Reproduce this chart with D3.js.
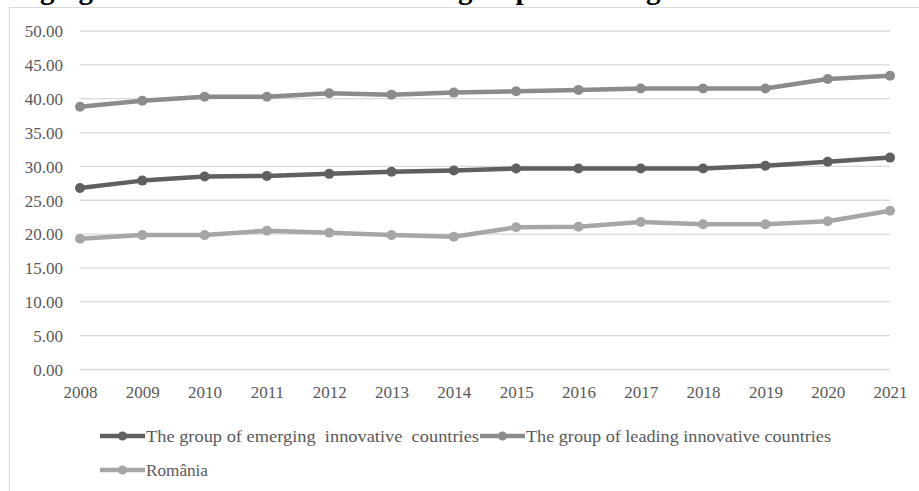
<!DOCTYPE html>
<html>
<head>
<meta charset="utf-8">
<script src="https://cdn.jsdelivr.net/npm/d3@7"></script>
<style>
  html, body { margin: 0; padding: 0; background: #fff; }
  svg { display: block; }
  text { font-family: "Liberation Serif", "Times New Roman", serif; }
</style>
</head>
<body>
<svg id="chart" width="919" height="491"></svg>
<script>
// Innovation scores, 2008–2021
const years = ["2008","2009","2010","2011","2012","2013","2014","2015","2016","2017","2018","2019","2020","2021"];
const emerging = [26.8, 27.9, 28.5, 28.6, 28.9, 29.2, 29.4, 29.7, 29.7, 29.7, 29.7, 30.1, 30.7, 31.3];
const leading  = [38.8, 39.7, 40.3, 40.3, 40.8, 40.6, 40.9, 41.1, 41.3, 41.5, 41.5, 41.5, 42.9, 43.4];
const romania  = [19.3, 19.85, 19.85, 20.5, 20.2, 19.85, 19.6, 21.0, 21.1, 21.8, 21.45, 21.45, 21.9, 23.45];
const yTicks = [0, 5, 10, 15, 20, 25, 30, 35, 40, 45, 50];
const seriesNames = [
  "The group of emerging  innovative  countries",
  "The group of leading innovative countries",
  "România"
];
const titleText = "emerging innovative countries and the group of leading innovative countries";

const series = [
  { name: seriesNames[0], values: emerging, color: "#606060" },
  { name: seriesNames[1], values: leading,  color: "#8b8b8b" },
  { name: seriesNames[2], values: romania,  color: "#a6a6a6" }
];

const svg = d3.select("#chart");
const labelColor = "#595959";

// Chart frame (top and left edges)
svg.append("line").attr("x1", 9.5).attr("x2", 919).attr("y1", 7.5).attr("y2", 7.5)
  .attr("stroke", "#d9d9d9").attr("stroke-width", 1.2);
svg.append("line").attr("x1", 9.5).attr("x2", 9.5).attr("y1", 7.5).attr("y2", 491)
  .attr("stroke", "#d9d9d9").attr("stroke-width", 1.2);

// Bold heading sitting above the top edge, only its descenders showing
const title = svg.append("text")
  .attr("x", 0).attr("y", -1)
  .attr("font-size", 29).attr("font-weight", "bold")
  .attr("fill", "#000")
  .text(titleText);
// place the "g" of "group" at x≈458
const gi = titleText.indexOf("group");
const gx = title.node().getStartPositionOfChar(gi).x;
title.attr("x", 458 - gx);

const x = d3.scalePoint().domain(years).range([80, 890]);
const y = d3.scaleLinear().domain([0, 50]).range([369.5, 31]);

// Gridlines
svg.append("g").selectAll("line").data(yTicks).join("line")
  .attr("x1", 80).attr("x2", 890)
  .attr("y1", d => y(d)).attr("y2", d => y(d))
  .attr("stroke", "#d9d9d9").attr("stroke-width", 1.3);

// Y axis labels
const yAxis = d3.axisLeft(y).tickValues(yTicks).tickFormat(d3.format(".2f")).tickSize(0).tickPadding(0);
const gy = svg.append("g").attr("transform", "translate(63,0)").call(yAxis);
gy.select(".domain").remove();
gy.selectAll("text")
  .attr("font-family", "Liberation Serif, Times New Roman, serif")
  .attr("font-size", 17).attr("fill", labelColor).attr("dy", "0.34em");

// X axis labels
const xAxis = d3.axisBottom(x).tickSize(0).tickPadding(0);
const gx2 = svg.append("g").attr("transform", "translate(0,386)").call(xAxis);
gx2.select(".domain").remove();
gx2.selectAll("text")
  .attr("font-family", "Liberation Serif, Times New Roman, serif")
  .attr("font-size", 17).attr("fill", labelColor).attr("dy", "0.72em");

// Lines and markers
const line = d3.line().x((d, i) => x(years[i])).y(d => y(d));
const sg = svg.append("g").selectAll("g").data(series).join("g");
sg.append("path")
  .attr("d", d => line(d.values))
  .attr("fill", "none").attr("stroke", d => d.color)
  .attr("stroke-width", 4.5).attr("stroke-linejoin", "round").attr("stroke-linecap", "round");
sg.each(function(s) {
  d3.select(this).selectAll("circle").data(s.values).join("circle")
    .attr("cx", (d, i) => x(years[i])).attr("cy", d => y(d))
    .attr("r", 5).attr("fill", s.color);
});

// Legend
const legendItems = [
  { s: series[0], x: 100, y: 436, w: 333 },
  { s: series[1], x: 480, y: 436, w: 305 },
  { s: series[2], x: 100, y: 470, w: 62 }
];
const lg = svg.append("g").selectAll("g").data(legendItems).join("g")
  .attr("transform", d => `translate(${d.x},${d.y})`);
lg.append("line").attr("x1", 0).attr("x2", 45).attr("y1", 0).attr("y2", 0)
  .attr("stroke", d => d.s.color).attr("stroke-width", 4.5);
lg.append("circle").attr("cx", 22.5).attr("cy", 0).attr("r", 4.5).attr("fill", d => d.s.color);
lg.append("text")
  .attr("x", 46).attr("y", 0).attr("dy", "0.34em")
  .attr("font-size", 17).attr("fill", labelColor)
  .attr("textLength", d => d.w).attr("lengthAdjust", "spacingAndGlyphs")
  .style("white-space", "pre")
  .text(d => d.s.name);
</script>
</body>
</html>
